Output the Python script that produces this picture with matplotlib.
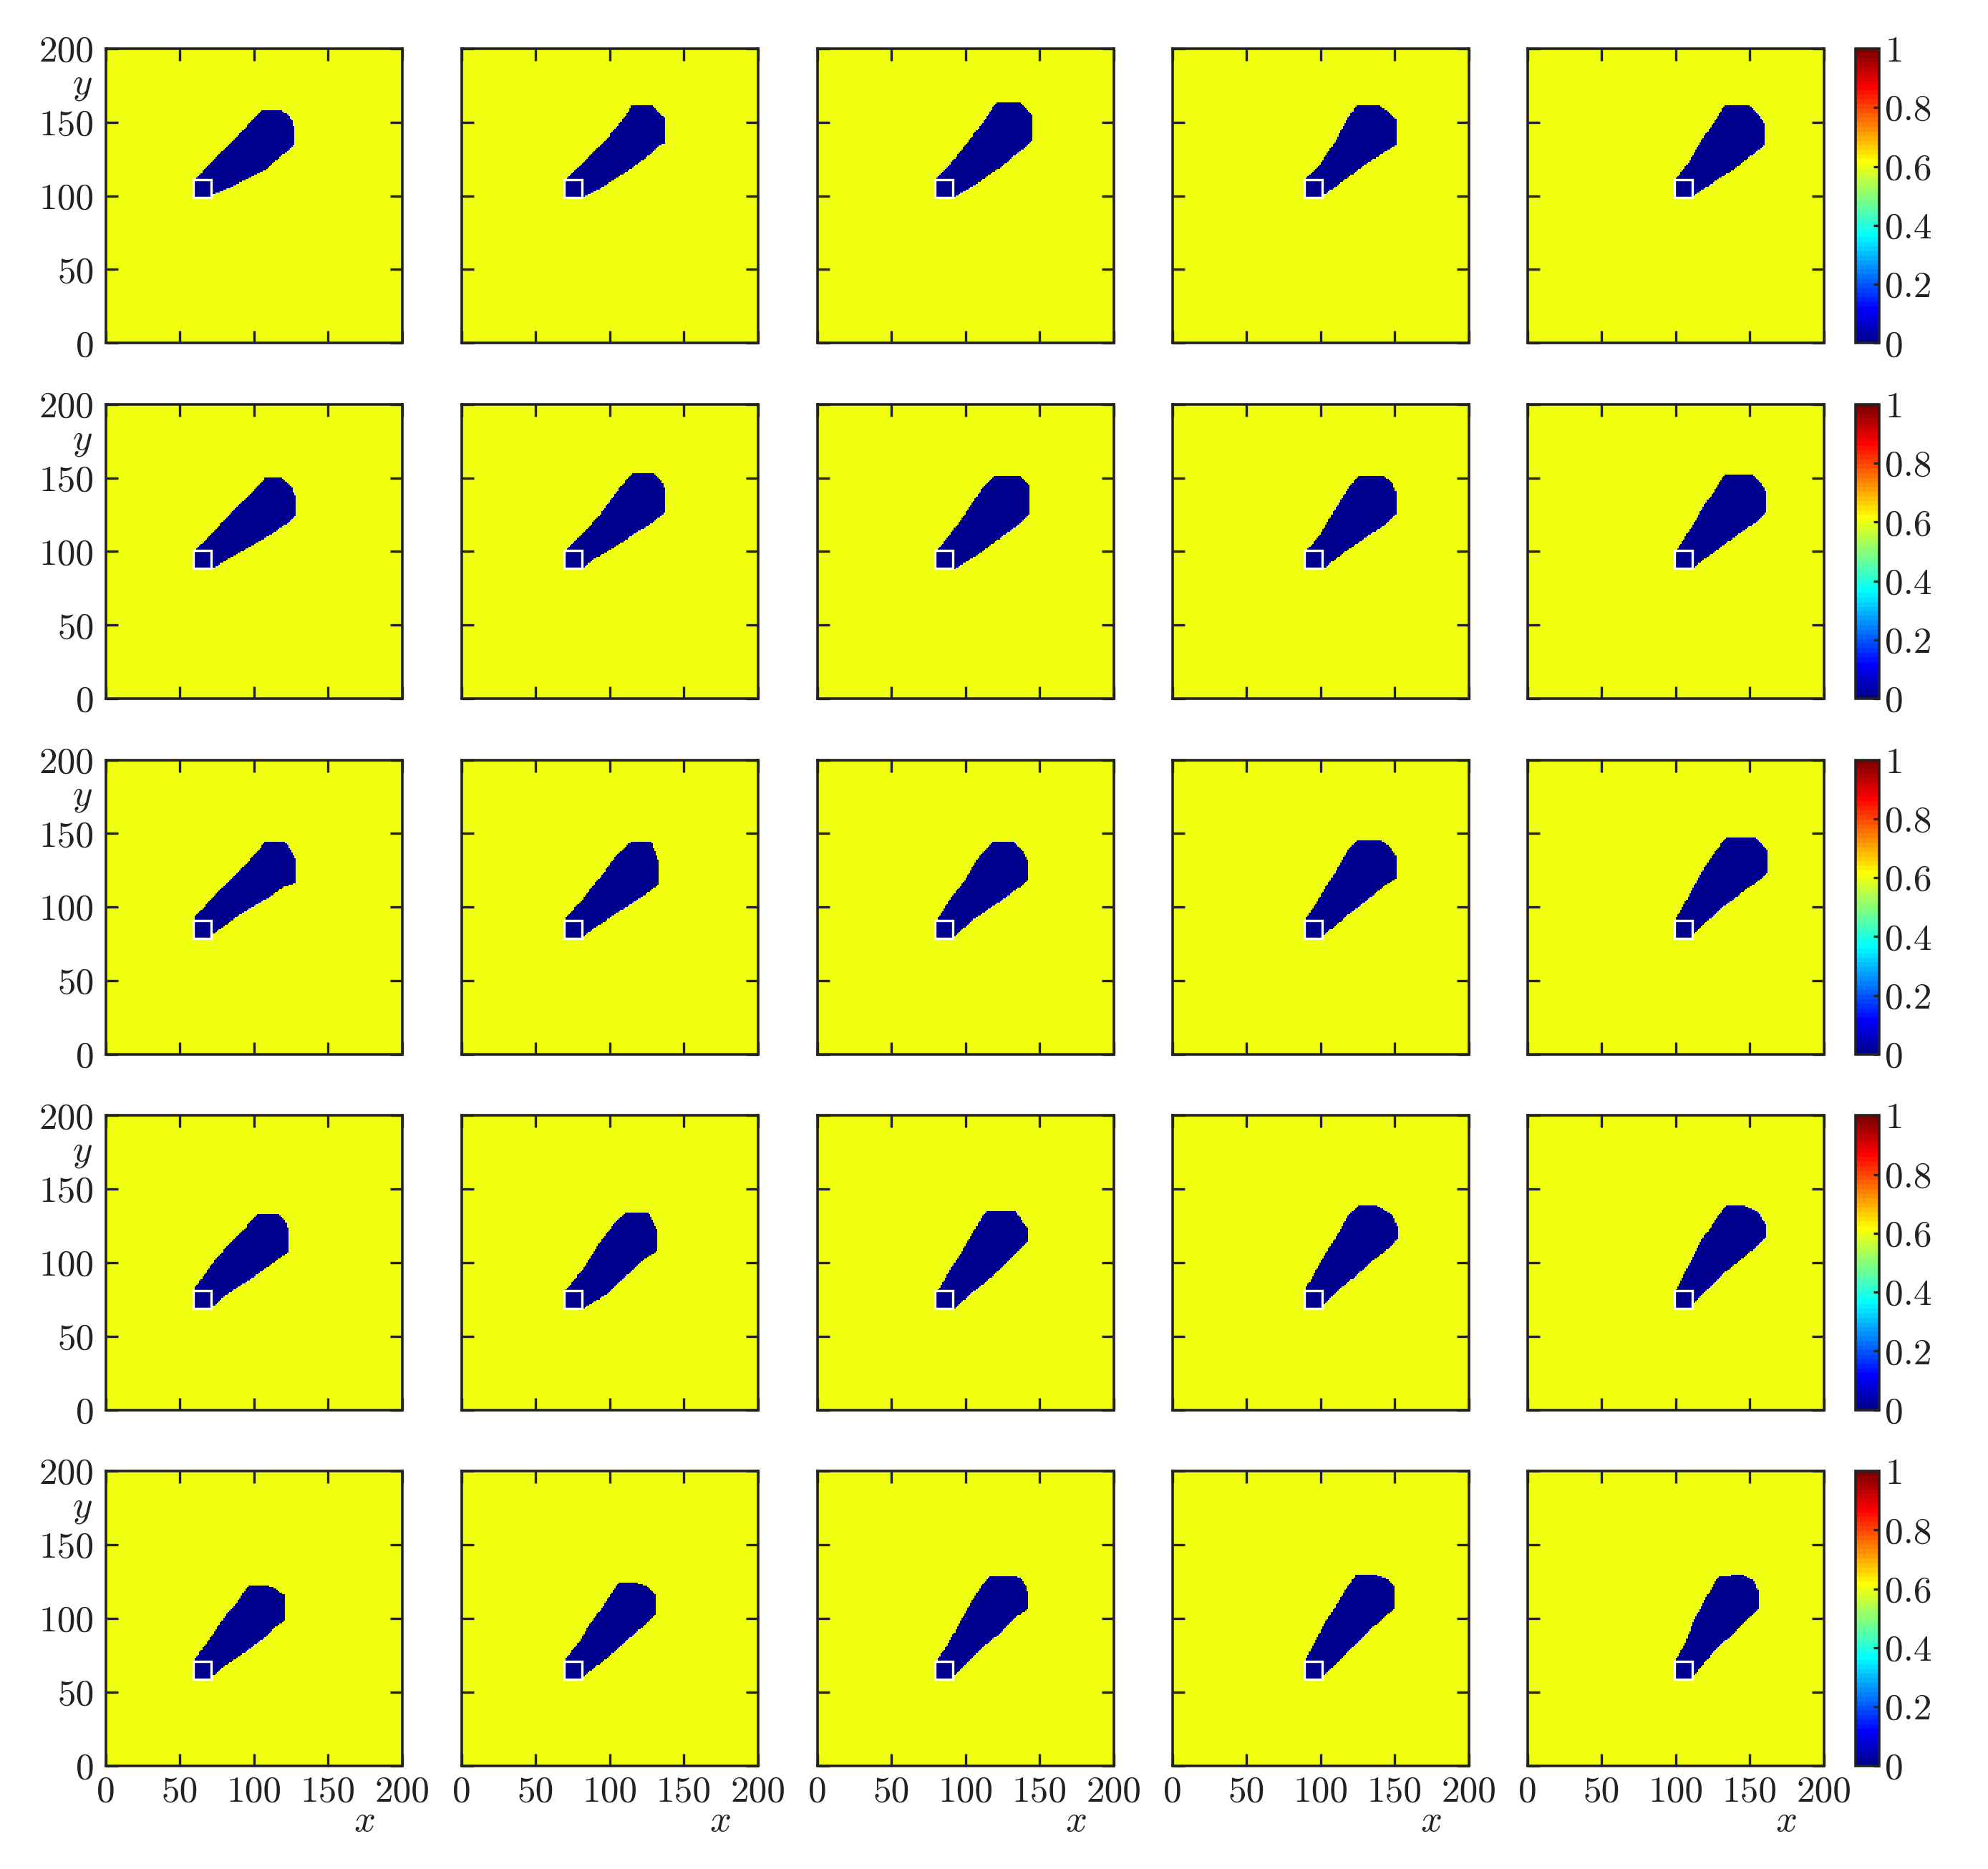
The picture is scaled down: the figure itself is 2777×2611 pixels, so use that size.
import numpy as np
import matplotlib
matplotlib.use('Agg')
import matplotlib.pyplot as plt
from matplotlib.path import Path
from matplotlib.colors import ListedColormap, Normalize
from matplotlib.cm import ScalarMappable

plt.rcParams.update({
    'font.family': 'serif',
    'font.serif': ['cmr10', 'DejaVu Serif'],
    'mathtext.fontset': 'cm',
    'axes.formatter.use_mathtext': True,
    'font.size': 18.5,
    'text.color': '#222222',
    'xtick.color': '#222222',
    'ytick.color': '#222222',
})

# ---------------- data ----------------
source_x = [65, 75, 85, 95, 105]     # columns
source_y = [105, 95, 85, 75, 65]     # rows (top to bottom)
background_level = 0.6
plume_level = 0.0
axis_ticks = [0, 50, 100, 150, 200]
cbar_ticks = [0, 0.2, 0.4, 0.6, 0.8, 1.0]
cbar_labels = ['0', '0.2', '0.4', '0.6', '0.8', '1']

plume_row1 = [
    [(59,106),(60,111),(65,116),(75,127),(85,137),(95,147),(104,157),(105,158),(118,158),(123,155),(126,150),(127,144),(127,135),(124,131),(115,124),(107,117),(97,112),(85,106),(73,101),(68,99),(59,99)],
    [(69,106),(70,111),(81,122),(94,134),(106,148),(113,158),(114,161),(128,161),(134,156),(137,153),(137,135),(134,134),(126,127),(114,118),(102,110),(90,103),(82,99),(69,99)],
    [(79,106),(80,111),(90,122),(102,137),(112,150),(120,162),(122,163),(136,163),(142,158),(145,154),(145,137),(138,131),(122,118),(106,107),(92,99),(79,99)],
    [(89,106),(90,111),(100,122),(110,137),(118,152),(124,161),(125,161),(139,161),(147,156),(151,152),(151,134),(144,130),(130,121),(117,111),(103,101),(89,99)],
    [(99,106),(100,111),(109,123),(117,137),(126,150),(132,160),(133,161),(150,161),(156,155),(160,148),(160,134),(151,127),(138,117),(124,108),(112,100),(99,99)],
]
plume_row2 = [
    [(59,96),(60,100),(77,118),(89,131),(99,141),(107,149),(107,150),(119,150),(125,144),(128,137),(128,124),(121,118),(111,111),(97,103),(85,96),(73,89),(59,89)],
    [(69,96),(70,101),(82,112),(94,126),(106,142),(114,152),(116,153),(130,153),(135,148),(137,142),(137,126),(128,119),(114,110),(102,102),(90,95),(82,89),(69,89)],
    [(79,96),(80,100),(90,112),(102,129),(112,144),(118,150),(120,151),(136,151),(140,148),(143,144),(143,125),(136,118),(122,108),(106,96),(92,88),(79,89)],
    [(89,96),(90,100),(100,112),(108,126),(117,140),(124,150),(125,151),(142,151),(148,147),(151,140),(151,125),(142,117),(130,109),(117,100),(103,89),(89,89)],
    [(99,96),(100,100),(111,117),(119,131),(128,144),(132,151),(133,152),(151,152),(157,147),(161,140),(161,126),(153,119),(143,112),(128,101),(112,89),(99,89)],
]
plume_row3 = [
    [(59,86),(60,93),(73,108),(85,119),(97,132),(105,141),(107,144),(121,144),(125,138),(128,132),(128,116),(121,114),(109,106),(97,99),(85,91),(73,82),(59,79)],
    [(69,86),(70,92),(82,106),(94,121),(106,137),(113,143),(114,144),(128,144),(131,137),(133,131),(133,115),(126,110),(114,102),(102,94),(90,86),(82,80),(69,79)],
    [(79,86),(81,92),(90,106),(100,119),(110,136),(117,143),(118,144),(132,144),(138,139),(142,131),(142,118),(136,113),(122,103),(106,92),(92,80),(79,79)],
    [(89,86),(90,92),(100,108),(110,124),(118,138),(123,144),(125,145),(140,145),(147,141),(151,134),(151,119),(144,115),(134,107),(124,99),(113,90),(101,80),(89,79)],
    [(99,86),(100,92),(109,108),(117,123),(126,137),(133,146),(134,147),(153,147),(159,142),(162,138),(162,123),(156,118),(145,110),(133,101),(123,92),(112,82),(99,79)],
]
plume_row4 = [
    [(59,76),(60,83),(73,101),(85,115),(95,125),(101,132),(102,133),(117,133),(121,128),(123,123),(123,107),(117,103),(105,94),(93,86),(81,78),(73,71),(59,69)],
    [(69,76),(70,81),(82,96),(94,115),(104,128),(109,133),(110,134),(126,134),(129,128),(132,122),(132,108),(124,103),(112,92),(100,80),(82,69),(69,69)],
    [(79,76),(81,81),(90,96),(100,112),(108,126),(113,134),(115,135),(134,135),(138,128),(142,124),(142,115),(136,108),(122,94),(106,81),(92,69),(79,69)],
    [(89,76),(90,83),(100,101),(110,117),(118,131),(124,138),(126,139),(137,139),(148,133),(152,124),(152,117),(149,112),(137,103),(127,94),(115,84),(101,71),(89,69)],
    [(99,76),(100,81),(109,99),(117,115),(126,128),(133,138),(134,139),(146,139),(156,134),(161,125),(161,117),(156,112),(145,103),(134,94),(123,83),(111,71),(99,69)],
]
plume_row5 = [
    [(59,66),(60,72),(65,79),(73,90),(81,102),(89,111),(95,121),(97,122),(109,122),(115,120),(118,117),(121,116),(121,98),(115,94),(105,85),(93,76),(81,68),(73,61),(59,59)],
    [(69,66),(70,72),(78,82),(86,95),(94,106),(104,121),(106,124),(118,124),(126,121),(129,118),(131,116),(131,102),(126,97),(114,87),(102,76),(92,68),(82,60),(69,59)],
    [(79,66),(81,72),(88,82),(96,97),(104,111),(112,124),(116,128),(134,128),(138,126),(141,121),(142,116),(142,106),(136,102),(126,92),(114,82),(104,72),(92,61),(79,59)],
    [(89,66),(90,72),(96,84),(103,97),(110,108),(118,121),(123,128),(123,129),(137,129),(146,126),(149,123),(150,121),(150,106),(146,103),(137,95),(127,85),(117,76),(101,59),(89,59)],
    [(99,66),(100,72),(106,82),(112,98),(119,111),(126,124),(129,128),(145,129),(153,125),(155,119),(156,119),(156,106),(153,103),(145,95),(134,85),(123,74),(111,59),(99,59)],
]
plume_rows = [plume_row1, plume_row2, plume_row3, plume_row4, plume_row5]

# ---------------- colormap (MATLAB-style jet, 64 levels) ----------------
def matlab_jet(m=64):
    n = int(np.ceil(m / 4))
    u = np.concatenate([np.arange(1, n + 1) / n, np.ones(n - 1), np.arange(n, 0, -1) / n])
    g = int(np.ceil(n / 2)) - (1 if m % 4 == 1 else 0) + np.arange(1, len(u) + 1)
    r = g + n
    b = g - n
    g = g[g <= m]
    r = r[r <= m]
    b = b[b >= 1]
    J = np.zeros((m, 3))
    J[r - 1, 0] = u[:len(r)]
    J[g - 1, 1] = u[:len(g)]
    J[b - 1, 2] = u[len(u) - len(b):]
    return ListedColormap(J)

cmap = matlab_jet(64)
norm = Normalize(vmin=0, vmax=1)

# ---------------- figure ----------------
W, H, DPI = 2777, 2611, 200
fig = plt.figure(figsize=(W / DPI, H / DPI), dpi=DPI)

col_left_px = [148, 645, 1142, 1638, 2134]
row_bottom_px = [479.3, 976.1, 1472.9, 1969.7, 2466.5]
ax_w_px, ax_h_px = 413.6, 411.3
cbar_left_px, cbar_w_px = 2592, 33

xc = np.arange(200) + 0.5
XX, YY = np.meshgrid(xc, xc)
pts = np.column_stack([XX.ravel(), YY.ravel()])

line_col = '#222222'
for r in range(5):
    for c in range(5):
        left = col_left_px[c] / W
        bottom = (H - row_bottom_px[r]) / H
        ax = fig.add_axes([left, bottom, ax_w_px / W, ax_h_px / H])
        inside = Path(plume_rows[r][c]).contains_points(pts).reshape(XX.shape)
        field = np.where(inside, plume_level, background_level)
        ax.imshow(field, origin='lower', extent=[0, 200, 0, 200], cmap=cmap, norm=norm,
                  interpolation='nearest', aspect='auto')
        ax.plot(source_x[c], source_y[r], 's', ms=9, mfc=cmap(0.0), mec='white', mew=1.2)
        ax.set_xlim(0, 200)
        ax.set_ylim(0, 200)
        ax.set_xticks(axis_ticks)
        ax.set_yticks(axis_ticks)
        ax.tick_params(direction='in', length=6, width=1.2, top=True, right=True,
                       labelsize=18.5, color=line_col)
        ax.tick_params(axis='x', pad=5)
        ax.tick_params(axis='y', pad=6)
        for s in ax.spines.values():
            s.set_linewidth(1.3)
            s.set_color(line_col)
        if c == 0:
            ax.set_yticklabels([str(t) for t in axis_ticks])
            ax.text(-0.08, 0.874, '$y$', transform=ax.transAxes, ha='center', va='center', fontsize=19)
        else:
            ax.set_yticklabels([])
        if r == 4:
            ax.set_xticklabels([str(t) for t in axis_ticks])
            ax.text(0.873, -0.19, '$x$', transform=ax.transAxes, ha='center', va='center', fontsize=19)
        else:
            ax.set_xticklabels([])
    # colorbar for this row
    cax = fig.add_axes([cbar_left_px / W, (H - row_bottom_px[r]) / H, cbar_w_px / W, ax_h_px / H])
    cb = fig.colorbar(ScalarMappable(norm=norm, cmap=cmap), cax=cax, ticks=cbar_ticks)
    cb.set_ticklabels(cbar_labels)
    cb.outline.set_linewidth(1.3)
    cb.outline.set_edgecolor(line_col)
    cax.tick_params(direction='in', length=3, width=1.2, right=True, left=False,
                    labelsize=18.5, pad=3, color=line_col)

fig.savefig('out.png', dpi=DPI)
